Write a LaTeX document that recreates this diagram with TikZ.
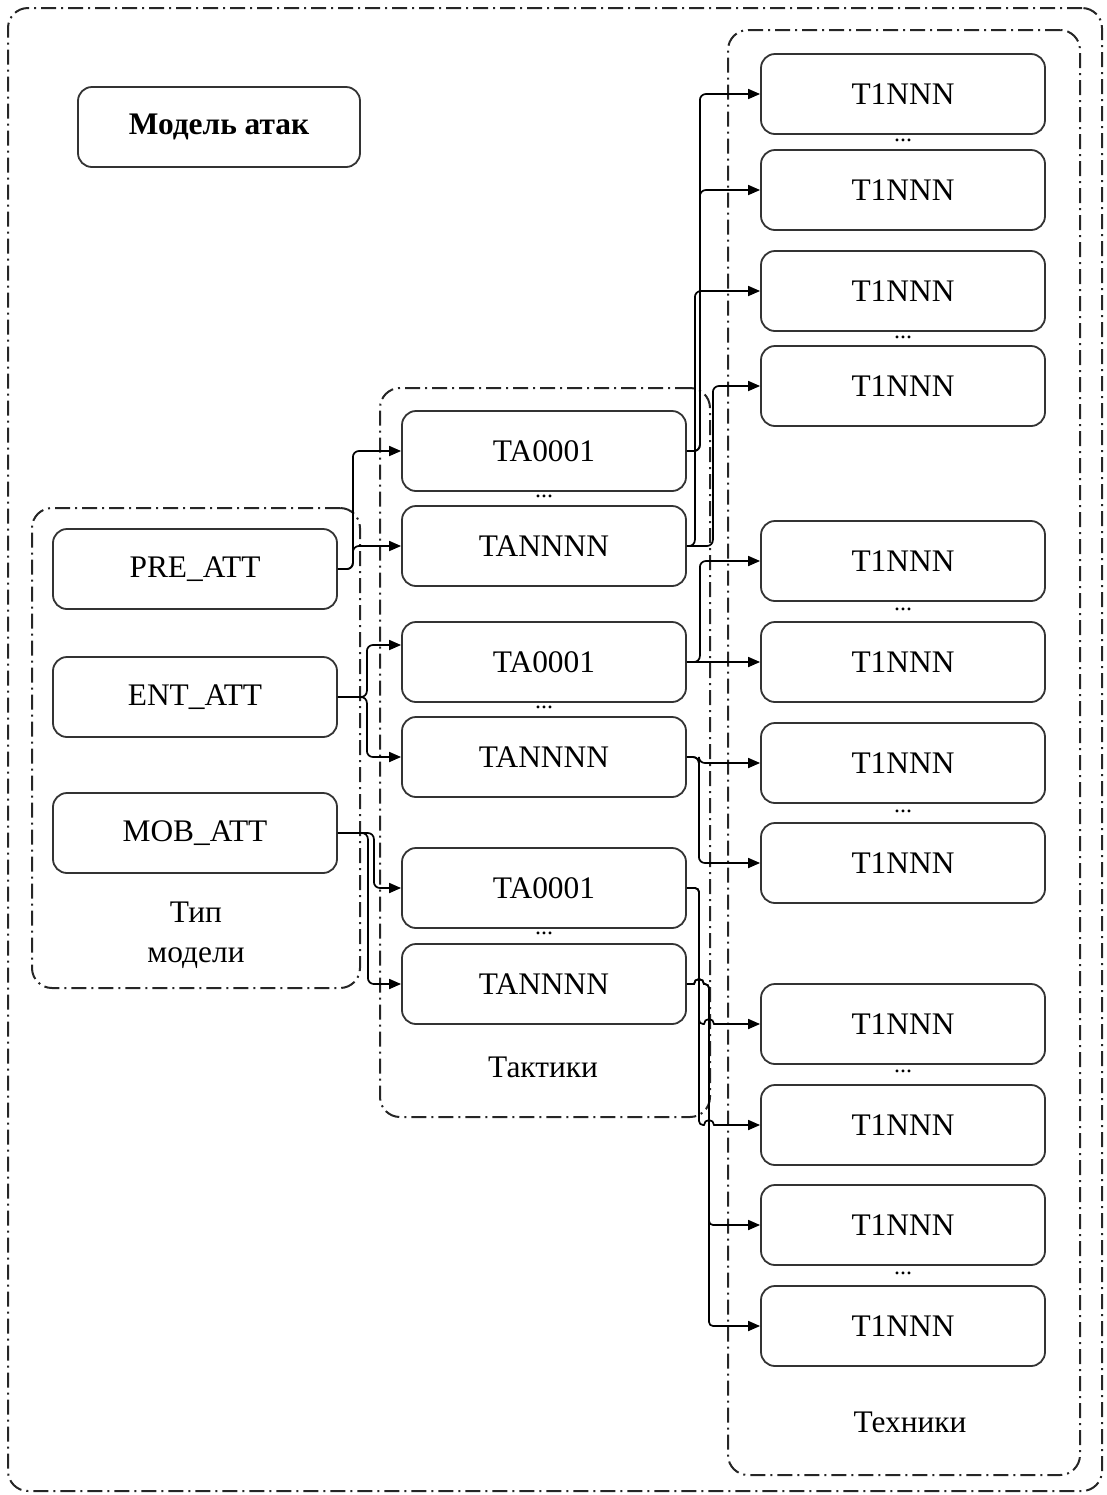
\documentclass[tikz,border=0pt]{standalone}
\usepackage{fontspec}
\setmainfont{Liberation Serif}
\usetikzlibrary{arrows.meta,calc}
\begin{document}
\begin{tikzpicture}[x=0.5pt,y=-0.5pt,
  box/.style={draw=black!80, line width=0.9pt, rounded corners=7pt, minimum width=142pt, minimum height=40pt, inner sep=0pt, font=\fontsize{15.7}{19}\selectfont},
  grp/.style={draw=black!85, line width=1pt, rounded corners=10pt, dash pattern=on 7.5pt off 2.5pt on 1pt off 2.5pt, minimum width=#1, inner sep=0pt},
  conn/.style={draw=black, line width=0.85pt, rounded corners=3pt, -{Triangle[length=6pt,width=5pt]}},
  lbl/.style={font=\fontsize{15.7}{20}\selectfont, align=center, inner sep=0pt},
  dotsn/.style={font=\fontsize{12}{12}\selectfont, inner sep=0pt}
]
\useasboundingbox (0,0) rectangle (1107,1495);
% groups
\node[grp=547pt, minimum height=741.5pt] (outer) at (555,749.5) {};
\node[grp=164pt, minimum height=240pt] (gtype) at (196,748) {};
\node[grp=165pt, minimum height=364.5pt] (gtac) at (545,752.5) {};
\node[grp=176pt, minimum height=722.5pt] (gtech) at (904,752.5) {};
% title
\node[box, minimum width=141pt, font=\fontsize{15.7}{19}\selectfont\bfseries] (title) at (219,127) {Модель атак};
% model types
\node[box] (pre) at (195,569) {PRE\_ATT};
\node[box] (ent) at (195,697) {ENT\_ATT};
\node[box] (mob) at (195,833) {MOB\_ATT};
\node[lbl] (ltype) at (196,935) {Тип\\модели};
% tactics
\node[box] (ta1) at (544,451) {TA0001};
\node[box] (tn1) at (544,546) {TANNNN};
\node[box] (ta2) at (544,662) {TA0001};
\node[box] (tn2) at (544,757) {TANNNN};
\node[box] (ta3) at (544,888) {TA0001};
\node[box] (tn3) at (544,984) {TANNNN};
\node[dotsn] (d1) at (544,496) {...};
\node[dotsn] (d2) at (544,707) {...};
\node[dotsn] (d3) at (544,933) {...};
\node[lbl] (ltac) at (543,1067) {Тактики};
% techniques
\node[box] (t1) at (903,94) {T1NNN};
\node[box] (t2) at (903,190) {T1NNN};
\node[box] (t3) at (903,291) {T1NNN};
\node[box] (t4) at (903,386) {T1NNN};
\node[box] (t5) at (903,561) {T1NNN};
\node[box] (t6) at (903,662) {T1NNN};
\node[box] (t7) at (903,763) {T1NNN};
\node[box] (t8) at (903,863) {T1NNN};
\node[box] (t9) at (903,1024) {T1NNN};
\node[box] (t10) at (903,1125) {T1NNN};
\node[box] (t11) at (903,1225) {T1NNN};
\node[box] (t12) at (903,1326) {T1NNN};
\node[dotsn] (e1) at (903,140) {...};
\node[dotsn] (e2) at (903,337) {...};
\node[dotsn] (e3) at (903,609) {...};
\node[dotsn] (e4) at (903,811) {...};
\node[dotsn] (e5) at (903,1071) {...};
\node[dotsn] (e6) at (903,1273) {...};
\node[lbl] (ltech) at (910,1422) {Техники};
% model -> tactics
\draw[conn] (pre.east) -- ++(15,0) |- (ta1.west);
\draw[conn] (pre.east) -- ++(15,0) |- (tn1.west);
\draw[conn] (ent.east) -- ++(29,0) |- ($(ta2.west)+(0,-17)$);
\draw[conn] (ent.east) -- ++(29,0) |- (tn2.west);
\draw[conn] (mob.east) -- ++(36,0) |- (ta3.west);
\draw[conn] (mob.east) -- ++(30,0) |- (tn3.west);
% tactics -> techniques
\draw[conn] (ta1.east) -- ++(13,0) |- (t1.west);
\draw[conn] (ta1.east) -- ++(13,0) |- (t2.west);
\draw[conn] (tn1.east) -- ++(8,0) |- (t3.west);
\draw[conn] (tn1.east) -- ++(26,0) |- (t4.west);
\draw[conn] (ta2.east) -- ++(13,0) |- (t5.west);
\draw[conn] (ta2.east) -- (t6.west);
\draw[conn] (tn2.east) -- ++(12,0) |- (t7.west);
\draw[conn] (tn2.east) -- ++(12,0) |- (t8.west);
\draw[conn, rounded corners=2pt] (ta3.east) -- (699,888) -- (699,1024) [sharp corners] -- (704,1024) arc[start angle=180,end angle=0,radius=2.5pt] -- (t9.west);
\draw[conn, rounded corners=2pt] (ta3.east) -- (699,888) -- (699,1125) [sharp corners] -- (704,1125) arc[start angle=180,end angle=0,radius=2.5pt] -- (t10.west);
\draw[conn, sharp corners] (tn3.east) -- (694,984) arc[start angle=180,end angle=0,radius=2.5pt] [rounded corners=2pt] -- (709,984) -- (709,1225) -- (t11.west);
\draw[conn, sharp corners] (tn3.east) -- (694,984) arc[start angle=180,end angle=0,radius=2.5pt] [rounded corners=2pt] -- (709,984) -- (709,1326) -- (t12.west);
\end{tikzpicture}
\end{document}
